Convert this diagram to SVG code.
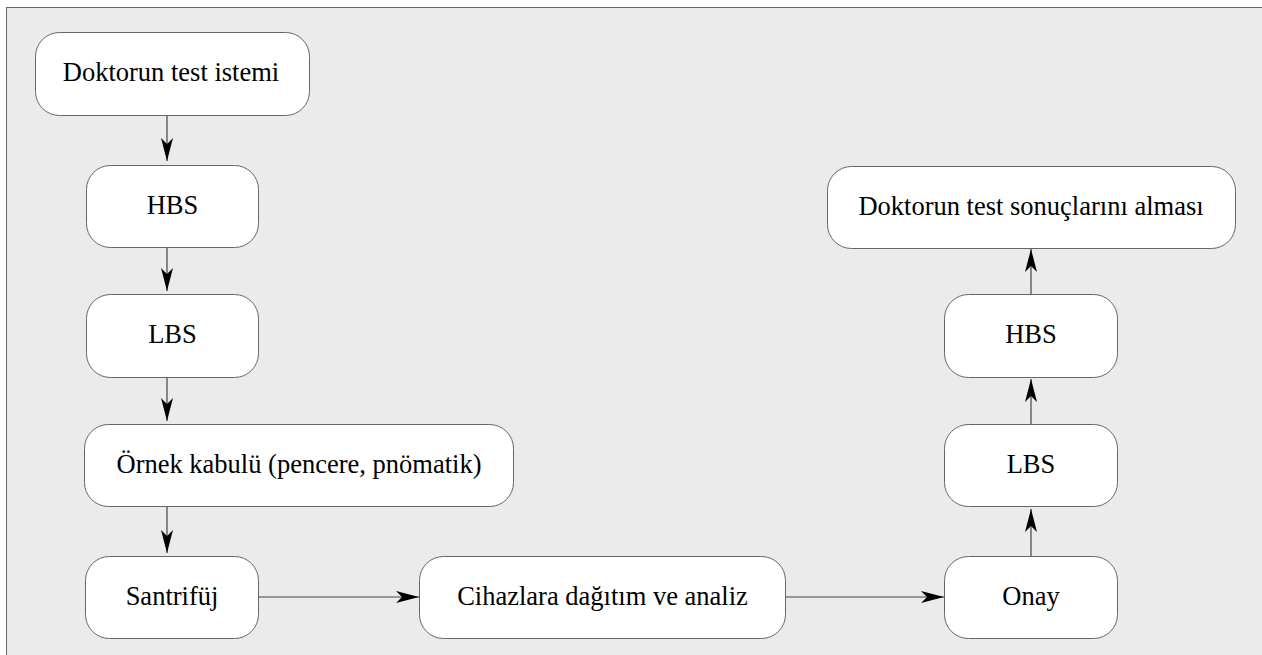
<svg xmlns="http://www.w3.org/2000/svg" width="1262" height="655" viewBox="0 0 1262 655">
<style>
text{font-family:"Liberation Serif","Times New Roman",Times,serif;font-size:26.5px;fill:#000000;text-anchor:middle}
.box{fill:#ffffff;stroke:#666666;stroke-width:1}
</style>
<defs>
<marker id="arrowhead" markerWidth="24" markerHeight="12" refX="23" refY="6" orient="auto" markerUnits="userSpaceOnUse" viewBox="0 0 24 12">
<path d="M0,0 L23,6 L0,12 L6,6 Z" fill="#000000"/>
</marker>
</defs>
<rect x="6.5" y="7.5" width="1262" height="660" fill="#ebebeb" stroke="#666666" stroke-width="1"/>
<g id="connectors" stroke="#444444" stroke-width="1.2" fill="none">
<line x1="167" y1="115" x2="167" y2="161" marker-end="url(#arrowhead)"/>
<line x1="167" y1="247" x2="167" y2="291" marker-end="url(#arrowhead)"/>
<line x1="167" y1="377" x2="167" y2="421" marker-end="url(#arrowhead)"/>
<line x1="167" y1="506" x2="167" y2="553" marker-end="url(#arrowhead)"/>
<line x1="258" y1="597" x2="419" y2="597" marker-end="url(#arrowhead)"/>
<line x1="785" y1="597" x2="944" y2="597" marker-end="url(#arrowhead)"/>
<line x1="1031" y1="557" x2="1031" y2="509" marker-end="url(#arrowhead)"/>
<line x1="1031" y1="424" x2="1031" y2="379" marker-end="url(#arrowhead)"/>
<line x1="1031" y1="294" x2="1031" y2="249" marker-end="url(#arrowhead)"/>
</g>
<g id="n1"><rect class="box" x="35.5" y="32.5" width="274" height="83" rx="24"/><text x="171" y="81">Doktorun test istemi</text></g>
<g id="n2"><rect class="box" x="86.5" y="165.5" width="172" height="82" rx="24"/><text x="172.5" y="214">HBS</text></g>
<g id="n3"><rect class="box" x="86.5" y="294.5" width="172" height="83" rx="24"/><text x="172.5" y="343">LBS</text></g>
<g id="n4"><rect class="box" x="84.5" y="424.5" width="429" height="82" rx="24"/><text x="299" y="473">Örnek kabulü (pencere, pnömatik)</text></g>
<g id="n5"><rect class="box" x="85.5" y="556.5" width="173" height="82" rx="24"/><text x="172" y="605">Santrifüj</text></g>
<g id="n6"><rect class="box" x="419.5" y="556.5" width="366" height="82" rx="24"/><text x="602.5" y="605">Cihazlara dağıtım ve analiz</text></g>
<g id="n7"><rect class="box" x="944.5" y="556.5" width="173" height="82" rx="24"/><text x="1031" y="605">Onay</text></g>
<g id="n8"><rect class="box" x="944.5" y="424.5" width="173" height="82" rx="24"/><text x="1031" y="473">LBS</text></g>
<g id="n9"><rect class="box" x="944.5" y="294.5" width="173" height="83" rx="24"/><text x="1031" y="343">HBS</text></g>
<g id="n10"><rect class="box" x="827.5" y="166.5" width="408" height="82" rx="24"/><text x="1031" y="215">Doktorun test sonuçlarını alması</text></g>
</svg>
